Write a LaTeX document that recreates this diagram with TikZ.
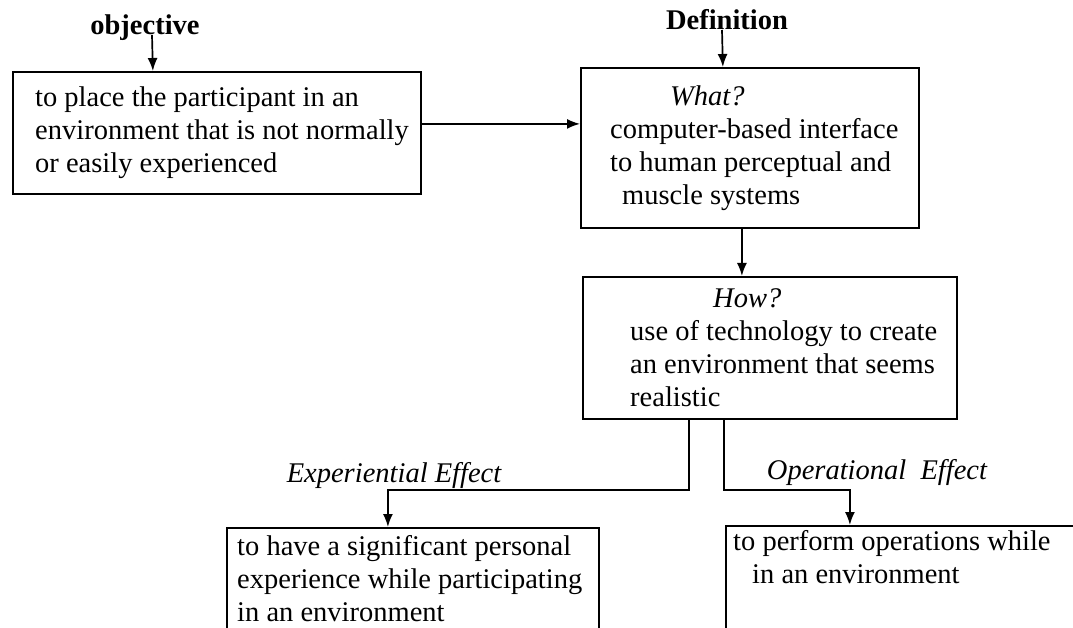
\documentclass[tikz,border=0pt]{standalone}
\usepackage{fontspec}
\setmainfont{Liberation Serif}
\usepackage{tikz}
\usetikzlibrary{arrows.meta, positioning}

\begin{document}
\begin{tikzpicture}[
    x=1pt, y=-1pt,
    box/.style={draw, line width=1.8pt, anchor=north west, inner sep=0pt},
    txt/.style={align=left, inner sep=0pt, font=\fontsize{28.5}{33}\selectfont},
    lbl/.style={inner sep=0pt, anchor=base, font=\fontsize{28.5}{33}\selectfont\bfseries},
    effect/.style={inner sep=0pt, font=\fontsize{28.5}{33}\selectfont\itshape},
    arrow/.style={-{Latex[length=13pt,width=10pt]}, line width=1.7pt}
]
    \useasboundingbox (0,0) rectangle (1073,628);
    \clip (0,0) rectangle (1073,628);

    \node (objlbl) [lbl] at (145,35) {objective};
    \node (deflbl) [lbl] at (727,30) {Definition};

    % boxes
    \node (objbox) [box, minimum width=408pt, minimum height=122pt] at (12,71) {};
    \node (whatbox) [box, minimum width=338pt, minimum height=160pt] at (580,67) {};
    \node (howbox) [box, minimum width=374pt, minimum height=142pt] at (582,276) {};
    \node (expbox) [box, minimum width=372pt, minimum height=110pt] at (226,527) {};
    \node (opbox) [box, minimum width=352pt, minimum height=110pt] at (725,525) {};

    % texts
    \node (objtext) [txt, anchor=west] at ([xshift=23pt]objbox.west) {to place the participant in an\\ environment that is not normally\\ or easily experienced};
    \node (whattext) [txt, anchor=west] at ([xshift=30pt]whatbox.west) {\hspace*{60pt}\textit{What?}\\ computer-based interface\\ to human perceptual and\\ \hspace*{12pt}muscle systems};
    \node (howtext) [txt, anchor=west] at ([xshift=48pt]howbox.west) {\hspace*{83pt}\textit{How?}\\ use of technology to create\\ an environment that seems\\ realistic};
    \node (exptext) [txt, anchor=north west] at ([xshift=11pt,yshift=-8pt]expbox.north west) {to have a significant personal\\ experience while participating\\ in an environment};
    \node (optext) [txt, anchor=north west] at ([xshift=8pt,yshift=-5pt]opbox.north west) {to perform operations while\\ \hspace*{19pt}in an environment};

    \node (explbl) [effect] at (394,475) {Experiential Effect};
    \node (oplbl) [effect] at (877,472) {Operational\ \ Effect};

    \draw [arrow] ([xshift=7pt]objlbl.base) -- ([xshift=-64pt]objbox.north);
    \draw [arrow] ([xshift=-5pt]deflbl.base) -- ([xshift=-27pt]whatbox.north);
    \draw [arrow] ([yshift=9pt]objbox.east) -- ([yshift=24pt]whatbox.west);
    \draw [arrow] ([xshift=-8pt]whatbox.south) -- ([xshift=-28pt]howbox.north);
    \draw [arrow] ([xshift=-81pt]howbox.south) |- ([xshift=-25pt,yshift=37pt]expbox.north) -- ([xshift=-25pt]expbox.north);
    \draw [arrow] ([xshift=-46pt]howbox.south) |- ([xshift=-52pt,yshift=35pt]opbox.north) -- ([xshift=-52pt]opbox.north);
\end{tikzpicture}
\end{document}
